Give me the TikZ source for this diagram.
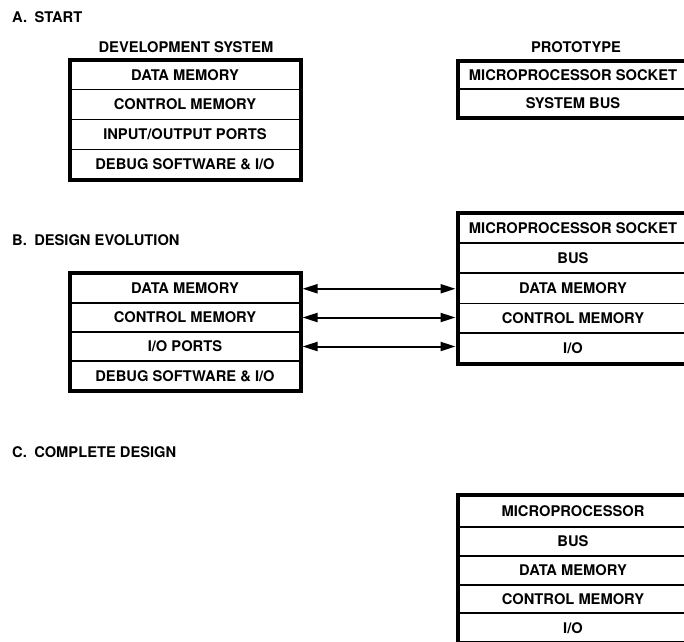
\documentclass[tikz,border=0pt]{standalone}
\usepackage{fontspec}
\setmainfont{TeX Gyre Heros}
\usetikzlibrary{arrows.meta}
\newcommand{\diafont}{\fontsize{14.7}{17}\selectfont\bfseries}
\tikzset{
  cell/.style={inner sep=0pt, outer sep=0pt, font=\diafont, text height=10.55pt, text depth=0pt, minimum width=231pt, draw, line width=1.6pt},
  head/.style={inner sep=0pt, font=\diafont, text height=10.55pt, text depth=0pt},
  frame/.style={line width=4pt},
  link/.style={line width=2pt, {Triangle[length=15pt,width=9pt]}-{Triangle[length=15pt,width=9pt]}, shorten <=2pt, shorten >=2pt}
}
\begin{document}
\begin{tikzpicture}[x=1pt,y=-1pt]
\useasboundingbox (0,0) rectangle (684,641);
\clip (0,0) rectangle (684,641);
\fill[white] (0,0) rectangle (684,641);

% A. START
\node[head, anchor=west] (hA) at (12,17.5) {A.\hspace{0.5em}START};
\node[head] (tDev) at (186,47) {DEVELOPMENT SYSTEM};
\node[cell, minimum height=29.5pt] (d1) at (185,74.75) {DATA MEMORY};
\node[cell, minimum height=30pt] (d2) at (185,104.5) {CONTROL MEMORY};
\node[cell, minimum height=30pt] (d3) at (185,134.5) {INPUT/OUTPUT PORTS};
\node[cell, minimum height=30pt] (d4) at (185,164.5) {DEBUG SOFTWARE \& I/O};
\draw[frame] (d1.north west) rectangle (d4.south east);

\node[head] (tPro) at (576,47) {PROTOTYPE};
\node[cell, minimum height=28pt] (p1) at (573,75) {MICROPROCESSOR SOCKET};
\node[cell, minimum height=29pt] (p2) at (573,103.5) {SYSTEM BUS};
\draw[frame] (p1.north west) rectangle (p2.south east);

% B. DESIGN EVOLUTION
\node[head, anchor=west] (hB) at (12,240) {B.\hspace{0.5em}DESIGN EVOLUTION};
\node[cell, minimum height=30.5pt] (bl1) at (185,287.75) {DATA MEMORY};
\node[cell, minimum height=29pt] (bl2) at (185,317.5) {CONTROL MEMORY};
\node[cell, minimum height=29pt] (bl3) at (185,346.5) {I/O PORTS};
\node[cell, minimum height=29.5pt] (bl4) at (185,375.75) {DEBUG SOFTWARE \& I/O};
\draw[frame] (bl1.north west) rectangle (bl4.south east);

\node[cell, minimum height=30pt] (br1) at (573,228) {MICROPROCESSOR SOCKET};
\node[cell, minimum height=30pt] (br2) at (573,258) {BUS};
\node[cell, minimum height=30.5pt] (br3) at (573,288.25) {DATA MEMORY};
\node[cell, minimum height=29.5pt] (br4) at (573,318.25) {CONTROL MEMORY};
\node[cell, minimum height=31pt] (br5) at (573,348.5) {I/O};
\draw[frame] (br1.north west) rectangle (br5.south east);

\draw[link] ([yshift=-1pt]bl1.east) -- ([yshift=-1pt]bl1.east -| br3.west);
\draw[link] (bl2.east) -- (bl2.east -| br4.west);
\draw[link] (bl3.east) -- (bl3.east -| br5.west);

% C. COMPLETE DESIGN
\node[head, anchor=west] (hC) at (12,452) {C.\hspace{0.5em}COMPLETE DESIGN};
\node[cell, minimum height=32pt] (c1) at (573,511) {MICROPROCESSOR};
\node[cell, minimum height=29pt] (c2) at (573,541.5) {BUS};
\node[cell, minimum height=29pt] (c3) at (573,570.5) {DATA MEMORY};
\node[cell, minimum height=28pt] (c4) at (573,599) {CONTROL MEMORY};
\node[cell, minimum height=30pt] (c5) at (573,628) {I/O};
\draw[frame] (c1.north west) rectangle (c5.south east);
\end{tikzpicture}
\end{document}
